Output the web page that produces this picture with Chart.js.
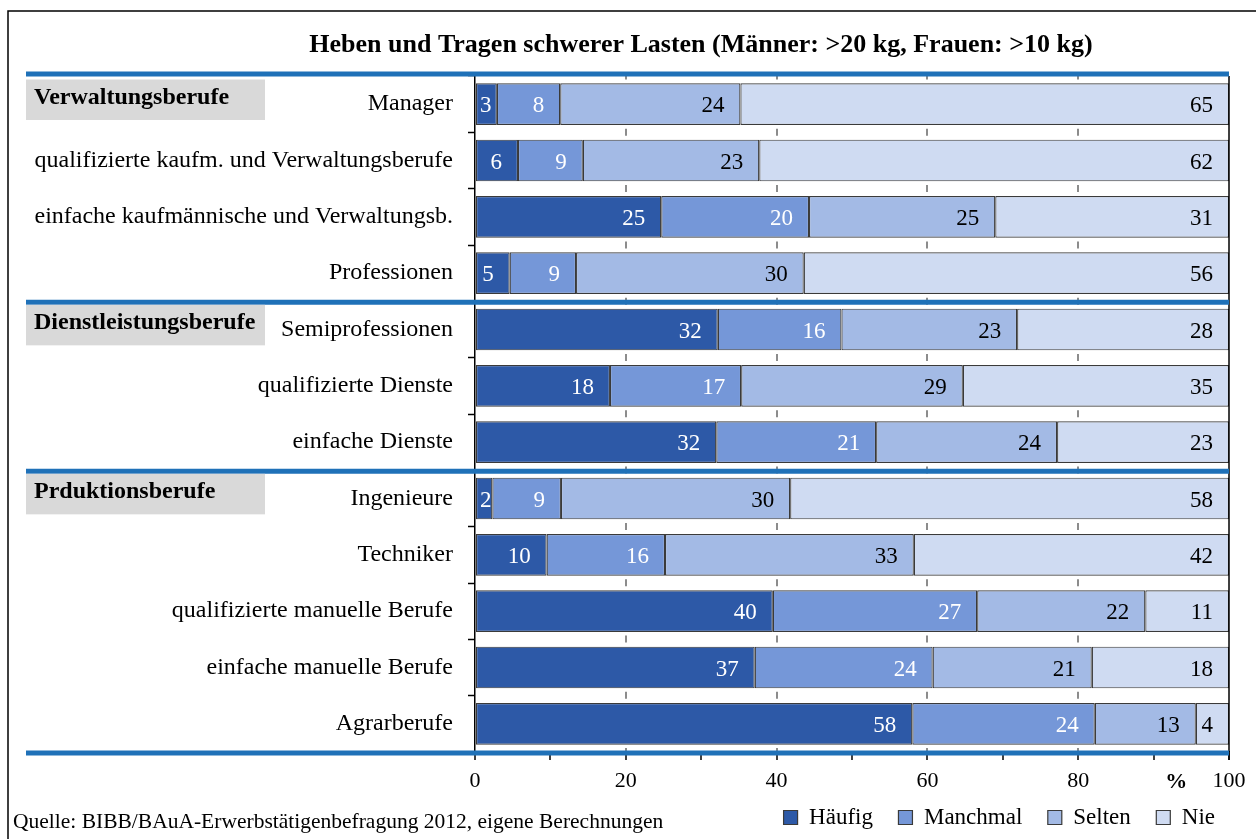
<!DOCTYPE html>
<html>
<head>
<meta charset="utf-8">
<title>Heben und Tragen schwerer Lasten</title>
<script src="https://cdn.jsdelivr.net/npm/chart.js@4.4.1/dist/chart.umd.min.js"></script>
<style>
  html, body { margin: 0; padding: 0; background: #fff; }
</style>
</head>
<body>
<canvas id="chart" width="1256" height="839"></canvas>
<script>
// Berufe (Kategorien, von oben nach unten)
const categories = [
  "Manager",
  "qualifizierte kaufm. und Verwaltungsberufe",
  "einfache kaufmännische und Verwaltungsb.",
  "Professionen",
  "Semiprofessionen",
  "qualifizierte Dienste",
  "einfache Dienste",
  "Ingenieure",
  "Techniker",
  "qualifizierte manuelle Berufe",
  "einfache manuelle Berufe",
  "Agrarberufe"
];

// Anteile in % (Beschriftung gerundet)
const haeufig  = [2.9, 5.7, 24.7, 4.6, 32.2, 17.9, 32.0, 2.3, 9.5, 39.5, 37.1, 58.0];
const manchmal = [8.4, 8.6, 19.6, 8.8, 16.4, 17.4, 21.2, 9.1, 15.7, 27.1, 23.6, 24.2];
const selten   = [23.9, 23.4, 24.7, 30.2, 23.3, 29.4, 24.0, 30.4, 33.0, 22.3, 21.1, 13.4];
const nie      = [64.8, 62.3, 31.0, 56.4, 28.1, 35.3, 22.8, 58.2, 41.8, 11.1, 18.2, 4.4];

const seriesNames = ["Häufig", "Manchmal", "Selten", "Nie"];

// Berufsgruppen und ihre erste Kategorie
const groupNames = ["Verwaltungsberufe", "Dienstleistungsberufe", "Prduktionsberufe"];
const groupStart = [0, 4, 7];

const titleText = "Heben und Tragen schwerer Lasten (Männer: >20 kg, Frauen: >10 kg)";
const sourceText = "Quelle: BIBB/BAuA-Erwerbstätigenbefragung 2012, eigene Berechnungen";
const unitLabel = "%";
const unitLabelValue = 93;

const FONT = "'Liberation Serif', 'Times New Roman', serif";
const colors = ["#2d59a7", "#7597d8", "#a3bae5", "#cfdbf2"];
const labelColors = ["#fff", "#fff", "#000", "#000"];
const blue = "#1f71b8";

// ---- Plugins ----
const decorPlugin = {
  id: "decor",
  beforeDraw(chart) {
    const ctx = chart.ctx;
    ctx.save();
    // Rahmen
    ctx.strokeStyle = "#000";
    ctx.lineWidth = 1.5;
    ctx.beginPath();
    ctx.moveTo(8, 839);
    ctx.lineTo(8, 11);
    ctx.lineTo(1256, 11);
    ctx.stroke();
    // Titel
    ctx.fillStyle = "#000";
    ctx.font = "bold 26px " + FONT;
    ctx.textAlign = "center";
    ctx.textBaseline = "middle";
    ctx.fillText(titleText, 701, 45);
    ctx.restore();
  },
  afterDatasetsDraw(chart) {
    const ctx = chart.ctx;
    const area = chart.chartArea;
    const y = chart.scales.y;
    const x = chart.scales.x;
    const pitch = (area.bottom - area.top) / categories.length;
    ctx.save();

    // Rechte Begrenzung
    ctx.strokeStyle = "#000";
    ctx.lineWidth = 1.5;
    ctx.beginPath();
    ctx.moveTo(area.right, area.top);
    ctx.lineTo(area.right, area.bottom + 8);
    ctx.stroke();

    // Blaue Trennlinien
    ctx.strokeStyle = blue;
    ctx.lineWidth = 5;
    const seps = groupStart.map(i => y.getPixelForValue(i) - pitch / 2 + (i === 0 ? -2 : 1));
    seps.push(area.bottom + 1);
    seps.forEach(sy => {
      ctx.beginPath();
      ctx.moveTo(26, sy);
      ctx.lineTo(area.right, sy);
      ctx.stroke();
    });

    // Gruppenkästen
    groupStart.forEach((i, g) => {
      const top = y.getPixelForValue(i) - pitch / 2 + 3.5;
      ctx.fillStyle = "#d9d9d9";
      ctx.fillRect(26, top, 239, 40.5);
      ctx.fillStyle = "#000";
      ctx.font = "bold 24px " + FONT;
      ctx.textAlign = "left";
      ctx.textBaseline = "middle";
      ctx.fillText(groupNames[g], 34, top + 18);
    });

    // Wertbeschriftungen
    ctx.font = "23px " + FONT;
    ctx.textAlign = "right";
    ctx.textBaseline = "middle";
    chart.data.datasets.forEach((ds, di) => {
      const meta = chart.getDatasetMeta(di);
      meta.data.forEach((el, j) => {
        const txt = String(Math.round(ds.data[j]));
        const w = ctx.measureText(txt).width;
        const xr = Math.max(el.x - 16, el.base + 4 + w);
        ctx.fillStyle = labelColors[di];
        ctx.fillText(txt, xr, el.y + 2);
      });
    });

    // Einheit an der x-Achse
    ctx.fillStyle = "#000";
    ctx.font = "bold 22px " + FONT;
    ctx.textAlign = "center";
    ctx.fillText(unitLabel, x.getPixelForValue(unitLabelValue), area.bottom + 30);

    // Quelle
    ctx.font = "21.5px " + FONT;
    ctx.textAlign = "left";
    ctx.fillText(sourceText, 13, 822);
    ctx.restore();
  }
};

const datasets = [haeufig, manchmal, selten, nie].map((vals, i) => ({
  label: seriesNames[i],
  data: vals,
  backgroundColor: colors[i],
  borderColor: "#3a3a3a",
  borderWidth: 1.2,
  borderSkipped: false,
  barPercentage: 0.74,
  categoryPercentage: 1
}));

const legendLabels = Chart.defaults.plugins.legend.labels.generateLabels;

new Chart(document.getElementById("chart").getContext("2d"), {
  type: "bar",
  data: { labels: categories, datasets: datasets },
  options: {
    indexAxis: "y",
    responsive: false,
    animation: false,
    devicePixelRatio: 1,
    layout: { padding: { left: 20, right: 27, top: 76, bottom: 0 } },
    scales: {
      x: {
        stacked: true,
        min: 0,
        max: 100,
        afterFit: s => { s.height = 40; },
        ticks: {
          stepSize: 10,
          autoSkip: false,
          maxRotation: 0,
          padding: 10,
          color: "#000",
          font: { family: FONT, size: 22, lineHeight: 1 },
          callback: v => (v % 20 === 0 ? v : "")
        },
        grid: {
          color: c => (c.tick && c.tick.value % 20 === 0 && c.tick.value > 0 && c.tick.value < 100) ? "#8c8c8c" : "rgba(0,0,0,0)",
          lineWidth: 2,
          tickColor: "#000",
          tickLength: 8,
          tickWidth: 1.5
        },
        border: { display: true, color: "#000", width: 1.5, dash: [7, 49.3], dashOffset: 3.5 }
      },
      y: {
        stacked: true,
        afterFit: s => { s.width = 455; },
        ticks: {
          padding: 15,
          color: "#000",
          font: { family: FONT, size: 24 }
        },
        grid: {
          offset: true,
          drawOnChartArea: false,
          tickLength: 7,
          tickColor: "#000",
          tickWidth: 1.5
        },
        border: { display: true, color: "#000", width: 1.5 }
      }
    },
    plugins: {
      title: { display: false },
      tooltip: { enabled: false },
      legend: {
        position: "bottom",
        align: "end",
        labels: {
          boxWidth: 14,
          boxHeight: 14,
          padding: 14,
          color: "#000",
          font: { family: FONT, size: 23 },
          // etwas mehr Abstand zwischen den Einträgen
          generateLabels: chart => legendLabels(chart).map((item, i, all) => {
            if (i < all.length - 1) item.text = item.text + "  ";
            return item;
          })
        }
      }
    }
  },
  plugins: [decorPlugin]
});
</script>
</body>
</html>
